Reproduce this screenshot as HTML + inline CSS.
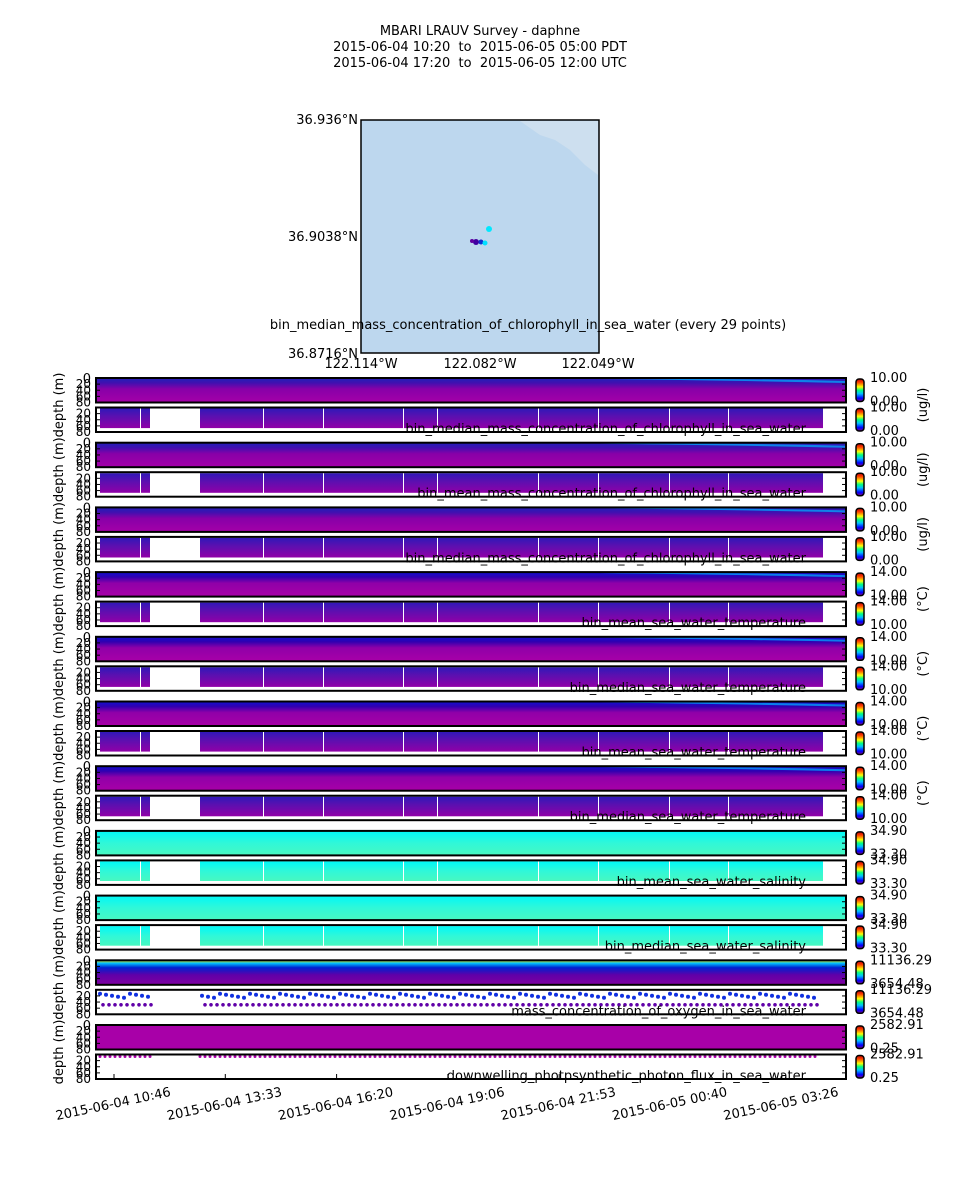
<!DOCTYPE html>
<html><head><meta charset="utf-8"><style>
body{margin:0;background:#fff;font-family:"DejaVu Sans","Liberation Sans",sans-serif}
svg text{font-family:"DejaVu Sans","Liberation Sans",sans-serif;white-space:pre}
</style></head><body>
<svg id="s" width="960" height="1200" xmlns="http://www.w3.org/2000/svg">
<defs>
<linearGradient id="chl" x1="0" y1="0" x2="0" y2="1">
<stop offset="0" stop-color="#2020b8"/><stop offset="0.2" stop-color="#4010b0"/><stop offset="0.45" stop-color="#8800a8"/><stop offset="1" stop-color="#a400a8"/></linearGradient>
<linearGradient id="chlb" x1="0" y1="0" x2="0" y2="1">
<stop offset="0" stop-color="#3018b8"/><stop offset="0.4" stop-color="#5a10b0"/><stop offset="1" stop-color="#9000a8"/></linearGradient>
<linearGradient id="tmp" x1="0" y1="0" x2="0" y2="1">
<stop offset="0" stop-color="#1010d0"/><stop offset="0.2" stop-color="#3000b0"/><stop offset="0.45" stop-color="#9000a8"/><stop offset="1" stop-color="#a800a8"/></linearGradient>
<linearGradient id="sal" x1="0" y1="0" x2="0" y2="1">
<stop offset="0" stop-color="#00f8f8"/><stop offset="0.5" stop-color="#30f8d8"/><stop offset="1" stop-color="#48f8c0"/></linearGradient>
<linearGradient id="oxy" x1="0" y1="0" x2="0" y2="1">
<stop offset="0" stop-color="#f0e000"/><stop offset="0.12" stop-color="#00c0ff"/><stop offset="0.3" stop-color="#0020d0"/><stop offset="0.6" stop-color="#6000a8"/><stop offset="1" stop-color="#8000a0"/></linearGradient>
<linearGradient id="cb" x1="0" y1="1" x2="0" y2="0">
<stop offset="0" stop-color="#800080"/><stop offset="0.15" stop-color="#0000ff"/><stop offset="0.35" stop-color="#00c0ff"/><stop offset="0.5" stop-color="#00ff80"/><stop offset="0.65" stop-color="#ffff00"/><stop offset="0.85" stop-color="#ff4000"/><stop offset="1" stop-color="#c00000"/></linearGradient>
</defs>
<text x="480" y="35" font-size="13" text-anchor="middle">MBARI LRAUV Survey - daphne</text>
<text x="480" y="51" font-size="13" text-anchor="middle">2015-06-04 10:20  to  2015-06-05 05:00 PDT</text>
<text x="480" y="67" font-size="13" text-anchor="middle">2015-06-04 17:20  to  2015-06-05 12:00 UTC</text>
<rect x="361" y="120" width="238" height="233" fill="#bdd7ee" stroke="#000" stroke-width="1.5"/>
<path d="M520 121 L598 121 L598 175 L585 165 L570 150 L555 140 L540 135 Z" fill="#cddfef"/>
<circle cx="489" cy="229" r="3" fill="#00e8ff"/>
<circle cx="476" cy="242" r="3" fill="#4000a0"/><circle cx="481" cy="242" r="2.5" fill="#1030d0"/><circle cx="485" cy="243" r="2.5" fill="#00e0ff"/><circle cx="472" cy="241" r="2" fill="#6000a0"/>
<text x="358" y="124" font-size="13" text-anchor="end">36.936°N</text>
<text x="358" y="241" font-size="13" text-anchor="end">36.9038°N</text>
<text x="358" y="358" font-size="13" text-anchor="end">36.8716°N</text>
<text x="361" y="368" font-size="13" text-anchor="middle">122.114°W</text>
<text x="480" y="368" font-size="13" text-anchor="middle">122.082°W</text>
<text x="598" y="368" font-size="13" text-anchor="middle">122.049°W</text>
<text x="528" y="329" font-size="13" text-anchor="middle">bin_median_mass_concentration_of_chlorophyll_in_sea_water (every 29 points)</text>
<g id="p"></g>
</svg>
<script>
const g=document.getElementById('p');let h='';
const X0=96,X1=846;
const specs=[
['chl','10.00','0.00','bin_median_mass_concentration_of_chlorophyll_in_sea_water','(ug/l)'],
['chl','10.00','0.00','bin_mean_mass_concentration_of_chlorophyll_in_sea_water','(ug/l)'],
['chl','10.00','0.00','bin_median_mass_concentration_of_chlorophyll_in_sea_water','(ug/l)'],
['tmp','14.00','10.00','bin_mean_sea_water_temperature','(°C)'],
['tmp','14.00','10.00','bin_median_sea_water_temperature','(°C)'],
['tmp','14.00','10.00','bin_mean_sea_water_temperature','(°C)'],
['tmp','14.00','10.00','bin_median_sea_water_temperature','(°C)'],
['sal','34.90','33.30','bin_mean_sea_water_salinity',''],
['sal','34.90','33.30','bin_median_sea_water_salinity',''],
['oxy','11136.29','3654.48','mass_concentration_of_oxygen_in_sea_water',''],
['pho','2582.91','0.25','downwelling_photpsynthetic_photon_flux_in_sea_water','']];
const segs=[[100,140],[141,150],[200,263],[264,323],[324,403],[404,437],[438,538],[539,598],[599,669],[670,728],[729,823]];
specs.forEach((s,i)=>{
 const yt=378+i*64.7, yb=yt+29.5, H=24.5;
 [yt,yb].forEach((y,k)=>{
  let fill = s[0]=='pho'? '#a800a8' : 'url(#'+s[0]+')';
  if(k==0){h+=`<rect x="${X0}" y="${y}" width="750" height="${H}" fill="${fill}"/>`;
   if(s[0]=='chl'||s[0]=='tmp') h+=`<path d="M600 ${y+1} Q720 ${y} 846 ${y+3} L846 ${y+5} Q700 ${y+2} 600 ${y+1}Z" fill="#00b0ff" opacity="0.7"/>`;
  } else {
   if(s[0]=='chl'||s[0]=='tmp') fill='url(#chlb)';
   if(s[0]=='oxy'){for(let x=100;x<820;x+=6){if(x>150&&x<200)continue;h+=`<circle cx="${x}" cy="${y+4+(x%5)}" r="2" fill="#1030e0"/><circle cx="${x+3}" cy="${y+14+(x%3)}" r="1.8" fill="#6000a8"/>`;}}
   else if(s[0]=='pho'){for(let x=100;x<820;x+=5){if(x>150&&x<200)continue;h+=`<circle cx="${x}" cy="${y+2}" r="1.5" fill="#a800a8"/>`;}}
   else segs.forEach(([a,b])=>{h+=`<rect x="${a}" y="${y+1}" width="${b-a}" height="${H*0.8}" fill="${fill}"/>`;});
   h+=`<text x="806" y="${y+H+1}" font-size="13" text-anchor="end">${s[3]}</text>`;
  }
  h+=`<rect x="${X0}" y="${y}" width="750" height="${H}" fill="none" stroke="#000" stroke-width="2"/>`;
  for(let t=1;t<4;t++){h+=`<line x1="${X0}" y1="${y+t*H/4}" x2="${X0+4}" y2="${y+t*H/4}" stroke="#000"/><line x1="${X1-4}" y1="${y+t*H/4}" x2="${X1}" y2="${y+t*H/4}" stroke="#000"/>`;}
  [0,20,40,60,80].forEach((v,j)=>{if(k==0&&j==0)h+=`<text x="91" y="${y+5}" font-size="13" text-anchor="end">0</text>`;else if(j>0)h+=`<text x="91" y="${y+j*H/4+4}" font-size="12" text-anchor="end">${v}</text>`;});
  h+=`<rect x="856" y="${y+1}" width="8" height="${H-2}" rx="3" fill="url(#cb)" stroke="#000" stroke-width="1.5"/>`;
  h+=`<text x="870" y="${y+4}" font-size="13">${s[1]}</text><text x="870" y="${y+H+3}" font-size="13">${s[2]}</text>`;
 });
 h+=`<text transform="translate(63,${yt+27}) rotate(-90)" font-size="13" text-anchor="middle">depth (m)</text>`;
 if(s[4])h+=`<text transform="translate(927,${yt+27}) rotate(-90)" font-size="13" text-anchor="middle">${s[4]}</text>`;
});
const labs=['2015-06-04 10:46','2015-06-04 13:33','2015-06-04 16:20','2015-06-04 19:06','2015-06-04 21:53','2015-06-05 00:40','2015-06-05 03:26'];
labs.forEach((l,i)=>{const x=114+i*111.3;h+=`<line x1="${x}" y1="1074" x2="${x}" y2="1079" stroke="#000"/><text transform="translate(${x},1108) rotate(-12)" font-size="13" text-anchor="middle">${l}</text>`;});
g.innerHTML=h;
</script>
</body></html>
